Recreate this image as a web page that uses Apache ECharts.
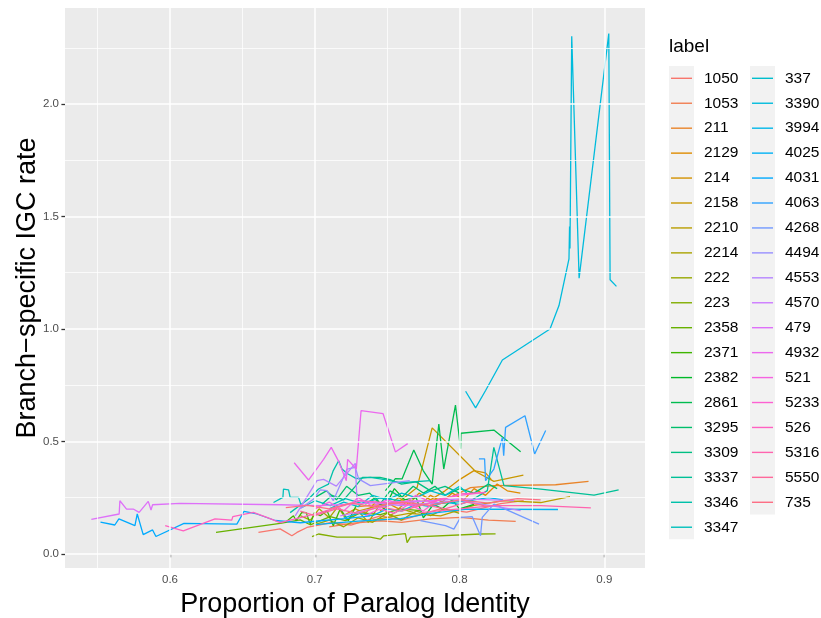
<!DOCTYPE html>
<html>
<head>
<meta charset="utf-8">
<script src="https://cdn.jsdelivr.net/npm/echarts@6/dist/echarts.min.js"></script>
<style>
  html, body { margin: 0; padding: 0; background: #ffffff; }
  #chart { width: 821px; height: 618px; }
</style>
</head>
<body>
<div id="chart"></div>
<script>
// Gene-pair labels, in legend order
const labels = ['1050','1053','211','2129','214','2158','2210','2214','222','223',
  '2358','2371','2382','2861','3295','3309','3337','3346','3347','337',
  '3390','3994','4025','4031','4063','4268','4494','4553','4570','479',
  '4932','521','5233','526','5316','5550','735'];

// Each series: [proportion of paralog identity, branch-specific IGC rate]
const l1050 = [[0.6611,0.095],[0.6761,0.111],[0.6842,0.080],[0.6877,0.095],[0.6946,0.117],[0.7107,0.138],[0.7250,0.128],[0.7453,0.169],[0.7600,0.150],[0.7869,0.200],[0.8050,0.185],[0.8284,0.223],[0.8443,0.236]];
const l1053 = [[0.7100,0.120],[0.7250,0.135],[0.7453,0.147],[0.7600,0.140],[0.7800,0.155],[0.8007,0.162],[0.8200,0.150],[0.8388,0.144]];
const l211  = [[0.7300,0.210],[0.7550,0.225],[0.7799,0.236],[0.7950,0.255],[0.8076,0.294],[0.8235,0.303],[0.8664,0.307],[0.8891,0.322]];
const l2129 = [[0.745,0.19],[0.752,0.22],[0.758,0.20],[0.765,0.24],[0.772,0.21],[0.780,0.26],[0.788,0.23],[0.795,0.27],[0.803,0.24],[0.810,0.29],[0.818,0.26],[0.826,0.31],[0.833,0.28],[0.842,0.27]];
const l214  = [[0.720,0.17],[0.728,0.20],[0.735,0.18],[0.742,0.23],[0.750,0.21],[0.758,0.25],[0.765,0.22],[0.772,0.27],[0.780,0.24],[0.790,0.28],[0.800,0.33],[0.810,0.37],[0.818,0.36],[0.822,0.33]];
const l2158 = [[0.7300,0.190],[0.7450,0.215],[0.7592,0.236],[0.7707,0.295],[0.7811,0.560],[0.8111,0.366],[0.8237,0.322],[0.8441,0.350]];
const l2210 = [[0.7400,0.150],[0.7650,0.180],[0.7869,0.169],[0.8100,0.215],[0.8304,0.236],[0.8561,0.228],[0.8763,0.254]];
const l2214 = [[0.690,0.17],[0.697,0.15],[0.703,0.20],[0.710,0.16],[0.716,0.21],[0.722,0.15],[0.730,0.19],[0.737,0.14],[0.745,0.22],[0.752,0.17],[0.760,0.20],[0.770,0.18]];
const l222  = [[0.700,0.13],[0.710,0.15],[0.720,0.12],[0.730,0.16],[0.740,0.14],[0.750,0.18],[0.760,0.15],[0.770,0.19],[0.780,0.17],[0.790,0.20],[0.800,0.18]];
const l223  = [[0.6981,0.076],[0.7026,0.088],[0.7154,0.074],[0.7384,0.074],[0.7453,0.065],[0.7476,0.080],[0.7626,0.090],[0.7638,0.050],[0.7661,0.074],[0.8145,0.088],[0.8249,0.089]];
const l2358 = [[0.6318,0.095],[0.6761,0.135],[0.6900,0.151],[0.6969,0.129],[0.7107,0.165],[0.7211,0.147],[0.7315,0.183],[0.7453,0.174],[0.7592,0.200],[0.7730,0.192]];
const l2371 = [[0.6796,0.139],[0.6853,0.169],[0.6872,0.147],[0.6911,0.184],[0.6941,0.183],[0.6969,0.132],[0.6997,0.183],[0.7038,0.169],[0.7084,0.192],[0.7128,0.125],[0.7176,0.200],[0.7232,0.147],[0.7287,0.214]];
const l2382 = [[0.735,0.22],[0.742,0.25],[0.748,0.20],[0.755,0.29],[0.762,0.24],[0.770,0.25],[0.775,0.16],[0.782,0.22],[0.788,0.20],[0.795,0.24],[0.800,0.20],[0.810,0.22]];
const l2861 = [[0.7488,0.281],[0.7557,0.334],[0.7603,0.333],[0.7684,0.462],[0.7749,0.370],[0.7811,0.310],[0.7857,0.577],[0.7891,0.377],[0.7972,0.661],[0.8007,0.467],[0.8010,0.536],[0.8237,0.550],[0.8422,0.454]];
const l3295 = [[0.700,0.25],[0.708,0.28],[0.715,0.24],[0.722,0.30],[0.730,0.26],[0.738,0.27],[0.745,0.22],[0.752,0.28],[0.760,0.25],[0.768,0.30],[0.775,0.27],[0.783,0.30],[0.790,0.26],[0.800,0.29],[0.810,0.27],[0.820,0.31],[0.826,0.29]];
const l3309 = [[0.705,0.22],[0.712,0.26],[0.720,0.24],[0.728,0.30],[0.733,0.34],[0.745,0.34],[0.752,0.33],[0.760,0.31],[0.770,0.32],[0.780,0.28],[0.790,0.30],[0.800,0.27]];
const l3337 = [[0.7800,0.220],[0.8076,0.236],[0.8192,0.281],[0.8237,0.473],[0.8307,0.303],[0.8561,0.288],[0.8929,0.261],[0.9099,0.284]];
const l3346 = [[0.6830,0.183],[0.6957,0.244],[0.7026,0.288],[0.7095,0.310],[0.7128,0.370],[0.7165,0.414],[0.7188,0.377],[0.7227,0.356],[0.7287,0.334],[0.7384,0.340],[0.7453,0.333],[0.7592,0.316],[0.7799,0.325]];
const l3347 = [[0.6715,0.228],[0.6780,0.251],[0.6784,0.288],[0.6819,0.284],[0.6830,0.251],[0.6888,0.251],[0.6911,0.206],[0.7003,0.236],[0.7107,0.214],[0.7211,0.245],[0.7329,0.223],[0.7453,0.249],[0.7592,0.236]];
const l337  = [[0.710,0.20],[0.720,0.23],[0.730,0.21],[0.740,0.26],[0.750,0.24],[0.760,0.27],[0.770,0.25],[0.780,0.28],[0.790,0.26],[0.800,0.30],[0.805,0.27]];
const l3390 = [[0.8042,0.723],[0.8111,0.649],[0.8180,0.726],[0.8296,0.862],[0.8625,1.000],[0.8687,1.104],[0.8756,1.312],[0.8760,1.456],[0.8763,1.358],[0.8775,2.302],[0.8826,1.226],[0.9031,2.314],[0.9040,1.219],[0.9084,1.189]];
const l3994 = [[0.720,0.16],[0.730,0.18],[0.740,0.17],[0.750,0.20],[0.760,0.19],[0.770,0.22],[0.780,0.21],[0.790,0.23],[0.800,0.22],[0.810,0.24],[0.820,0.25],[0.830,0.24]];
const l4025 = [[0.7000,0.130],[0.7300,0.145],[0.7592,0.156],[0.7800,0.180],[0.8053,0.199],[0.8680,0.197]];
const l4031 = [[0.5520,0.141],[0.5619,0.128],[0.5647,0.155],[0.5758,0.125],[0.5774,0.177],[0.5815,0.085],[0.5880,0.106],[0.5903,0.077],[0.6097,0.135],[0.6462,0.132],[0.6512,0.189],[0.6600,0.177],[0.6727,0.148],[0.6900,0.138],[0.7038,0.147],[0.7211,0.156],[0.7384,0.169]];
const l4063 = [[0.8134,0.422],[0.8173,0.422],[0.8180,0.325],[0.8237,0.377],[0.8296,0.518],[0.8305,0.436],[0.8318,0.562],[0.8452,0.614],[0.8519,0.444],[0.8595,0.548]];
const l4268 = [[0.7730,0.147],[0.7903,0.125],[0.7961,0.110],[0.8007,0.162],[0.8088,0.165],[0.8145,0.080],[0.8157,0.162],[0.8237,0.221],[0.8549,0.132]];
const l4494 = [[0.6900,0.200],[0.6992,0.244],[0.7038,0.284],[0.7084,0.281],[0.7128,0.236],[0.7223,0.377],[0.7280,0.384],[0.7303,0.333],[0.7384,0.303],[0.7656,0.325]];
const l4553 = [[0.6865,0.169],[0.7015,0.325],[0.7061,0.331],[0.7149,0.301],[0.7280,0.402],[0.7292,0.236],[0.7592,0.214],[0.8007,0.236],[0.8422,0.192]];
const l4570 = [[0.7176,0.169],[0.7592,0.227],[0.8007,0.244],[0.8376,0.236]];
const l479  = [[0.5457,0.153],[0.5649,0.177],[0.5654,0.236],[0.5700,0.199],[0.5746,0.199],[0.5787,0.184],[0.5850,0.233],[0.5869,0.195],[0.5880,0.218],[0.6069,0.224],[0.6761,0.218],[0.7038,0.214],[0.7315,0.223],[0.7730,0.236]];
const l4932 = [[0.6858,0.405],[0.6957,0.328],[0.7061,0.420],[0.7114,0.473],[0.7165,0.411],[0.7218,0.325],[0.7227,0.420],[0.7287,0.377],[0.7320,0.637],[0.7472,0.623],[0.7557,0.453],[0.7642,0.490]];
const l521  = [[0.700,0.20],[0.710,0.23],[0.720,0.19],[0.730,0.25],[0.740,0.21],[0.750,0.24],[0.760,0.22],[0.770,0.26],[0.780,0.23],[0.790,0.25]];
const l5233 = [[0.735,0.17],[0.745,0.20],[0.755,0.18],[0.765,0.22],[0.775,0.19],[0.785,0.24],[0.800,0.260],[0.818,0.273]];
const l526  = [[0.5967,0.125],[0.6092,0.102],[0.6311,0.155],[0.6427,0.150],[0.6434,0.165],[0.6576,0.184],[0.6669,0.162],[0.6761,0.139],[0.7038,0.183],[0.7315,0.236],[0.7730,0.214],[0.8007,0.266],[0.8180,0.273]];
const l5316 = [[0.7730,0.183],[0.8237,0.214],[0.8561,0.214],[0.8907,0.204]];
const l5550 = [[0.690,0.19],[0.700,0.17],[0.715,0.20],[0.730,0.18],[0.745,0.21],[0.760,0.19],[0.775,0.22],[0.790,0.20],[0.805,0.23],[0.820,0.21]];
const l735  = [[0.680,0.205],[0.695,0.215],[0.710,0.200],[0.725,0.225],[0.740,0.210],[0.760,0.230],[0.780,0.215],[0.800,0.240],[0.820,0.225],[0.840,0.245],[0.856,0.240]];

const lineValues = [l1050,l1053,l211,l2129,l214,l2158,l2210,l2214,l222,l223,
  l2358,l2371,l2382,l2861,l3295,l3309,l3337,l3346,l3347,l337,
  l3390,l3994,l4025,l4031,l4063,l4268,l4494,l4553,l4570,l479,
  l4932,l521,l5233,l526,l5316,l5550,l735];

// Axis ticks and grid positions
const xTicks = [0.6, 0.7, 0.8, 0.9];
const xMinor = [0.55, 0.65, 0.75, 0.85];
const yTicks = [0.0, 0.5, 1.0, 1.5, 2.0];
const yMinor = [0.25, 0.75, 1.25, 1.75, 2.25];

// Polar-Luv (HCL) to sRGB hex, as used by the default discrete hue palette
function hcl(h, c, l) {
  const rad = h * Math.PI / 180;
  const U = c * Math.cos(rad), V = c * Math.sin(rad);
  const un = 0.1978398, vn = 0.4683363;
  const Y = l > 8 ? 100 * Math.pow((l + 16) / 116, 3) : 100 * l / 903.3;
  const u = U / (13 * l) + un, v = V / (13 * l) + vn;
  const X = 9 * Y * u / (4 * v);
  const Z = -X / 3 - 5 * Y + 3 * Y / v;
  const lin = [
    3.240479 * X - 1.537150 * Y - 0.498535 * Z,
    -0.969256 * X + 1.875992 * Y + 0.041556 * Z,
    0.055648 * X - 0.204043 * Y + 1.057311 * Z
  ].map(t => t / 100);
  const g = lin.map(t => {
    const s = t <= 0.0031308 ? 12.92 * t : 1.055 * Math.pow(t, 1 / 2.4) - 0.055;
    return Math.round(Math.min(1, Math.max(0, s)) * 255);
  });
  return '#' + g.map(n => n.toString(16).padStart(2, '0')).join('');
}
const palette = labels.map((_, i) => hcl(15 + 360 * i / labels.length, 100, 65));

// Axis limits with a 5% margin around the data
let xs = [], ys = [];
lineValues.forEach(s => s.forEach(p => { xs.push(p[0]); ys.push(p[1]); }));
const xLo = Math.min(...xs), xHi = Math.max(...xs);
const yLo = Math.min(...ys), yHi = Math.max(...ys);
const xPad = (xHi - xLo) * 0.05, yPad = (yHi - yLo) * 0.05;

const FONT = '"Liberation Sans", Arial, Helvetica, sans-serif';
const chart = echarts.init(document.getElementById('chart'), null, { renderer: 'canvas' });

const gridLines = [];
xTicks.forEach(v => gridLines.push({ xAxis: v, lineStyle: { width: 1.5 } }));
xMinor.forEach(v => gridLines.push({ xAxis: v, lineStyle: { width: 0.75 } }));
yTicks.forEach(v => gridLines.push({ yAxis: v, lineStyle: { width: 1.5 } }));
yMinor.forEach(v => gridLines.push({ yAxis: v, lineStyle: { width: 0.75 } }));

const series = [{
  type: 'line',
  name: '__grid',
  data: [],
  silent: true,
  markLine: {
    silent: true,
    symbol: ['none', 'none'],
    animation: false,
    label: { show: false },
    lineStyle: { color: '#ffffff', type: 'solid' },
    emphasis: { disabled: true },
    data: gridLines
  }
}];
labels.forEach((name, i) => {
  series.push({
    type: 'line',
    name: name,
    data: lineValues[i],
    showSymbol: false,
    symbol: 'none',
    color: palette[i],
    lineStyle: { color: palette[i], width: 1.3 },
    emphasis: { disabled: true },
    clip: true
  });
});

const legendCommon = {
  orient: 'vertical',
  icon: 'rect',
  itemWidth: 21,
  itemHeight: 1.4,
  itemGap: 7.94,
  padding: 0,
  selectedMode: false,
  textStyle: { fontFamily: FONT, fontSize: 15.5, color: '#000000', lineHeight: 17, padding: [0, 0, 0, 7] }
};

chart.setOption({
  animation: false,
  backgroundColor: '#ffffff',
  title: {
    text: 'label', left: 669, top: 37, padding: 0,
    textStyle: { fontFamily: FONT, fontSize: 19, fontWeight: 'normal', color: '#000000' }
  },
  legend: [
    Object.assign({ left: 671, top: 69.8, data: labels.slice(0, 19) }, legendCommon),
    Object.assign({ left: 752, top: 69.8, data: labels.slice(19) }, legendCommon)
  ],
  graphic: [
    { type: 'rect', left: 669, top: 66, shape: { width: 25, height: 473.3 }, style: { fill: '#F2F2F2' }, z: -1 },
    { type: 'rect', left: 750, top: 66, shape: { width: 25, height: 448.4 }, style: { fill: '#F2F2F2' }, z: -1 }
  ],
  grid: {
    left: 65, right: 176, top: 8, bottom: 50,
    outerBoundsMode: 'none',
    containLabel: false,
    show: true, backgroundColor: '#EBEBEB', borderWidth: 0
  },
  xAxis: {
    type: 'value',
    min: xLo - xPad, max: xHi + xPad,
    name: 'Proportion of Paralog Identity',
    nameLocation: 'middle',
    nameGap: 20,
    nameTextStyle: { fontFamily: FONT, fontSize: 27, color: '#000000' },
    axisLine: { show: false },
    axisTick: { show: true, length: 3.6, customValues: xTicks, lineStyle: { color: '#333333', width: 1.3 } },
    axisLabel: { customValues: xTicks, formatter: v => v.toFixed(1), fontFamily: FONT, fontSize: 11.5, color: '#4D4D4D', margin: 6 },
    splitLine: { show: false }
  },
  yAxis: {
    type: 'value',
    min: yLo - yPad, max: yHi + yPad,
    name: 'Branch\u2212specific IGC rate',
    nameLocation: 'middle',
    nameGap: 24,
    nameMoveOverlap: false,
    nameTextStyle: { fontFamily: FONT, fontSize: 27, color: '#000000' },
    axisLine: { show: false },
    axisTick: { show: true, length: 3.6, customValues: yTicks, lineStyle: { color: '#333333', width: 1.3 } },
    axisLabel: { customValues: yTicks, formatter: v => v.toFixed(1), fontFamily: FONT, fontSize: 11.5, color: '#4D4D4D', margin: 6 },
    splitLine: { show: false }
  },
  series: series
});
</script>
</body>
</html>
